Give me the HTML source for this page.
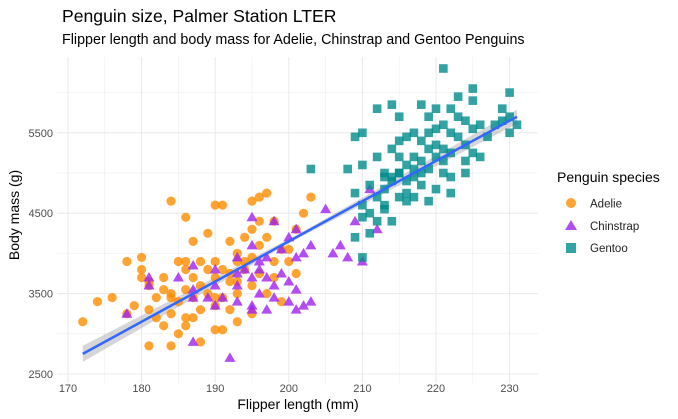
<!DOCTYPE html>
<html><head><meta charset="utf-8"><style>
body{margin:0;background:#fff;}
svg{display:block;font-family:"Liberation Sans",Arial,sans-serif;}
</style></head><body>
<svg id="chart" width="678" height="419">
<g id="grid"></g>
<g id="band"></g>
<g id="pts"></g>
<g id="fit"></g>
<g id="axes"></g>
<text x="62" y="22" font-size="17.6" fill="#000">Penguin size, Palmer Station LTER</text>
<text x="62" y="44" font-size="14.3" fill="#000">Flipper length and body mass for Adelie, Chinstrap and Gentoo Penguins</text>
<text x="298" y="409" font-size="14" text-anchor="middle">Flipper length (mm)</text>
<text transform="translate(19,215) rotate(-90)" font-size="14" text-anchor="middle">Body mass (g)</text>
<g>
<text x="557" y="182" font-size="14">Penguin species</text>
<g><circle cx="571" cy="203" r="5" fill="#FF8C00" fill-opacity="0.8"/><text x="590" y="207.5" font-size="11.5" fill="#222">Adelie</text></g>
<g><polygon points="571,220 577,230 565,230" fill="#A020F0" fill-opacity="0.8"/><text x="590" y="230" font-size="11.5" fill="#222">Chinstrap</text></g>
<g><rect x="566" y="243" width="10" height="10" fill="#008B8B" fill-opacity="0.8"/><text x="590" y="252" font-size="11.5" fill="#222">Gentoo</text></g>
</g>
</svg>
<script>
const xTicks=[170,180,190,200,210,220,230];
const yTicks=[2500,3500,4500,5500];
const adelie=[[172,3150],[174,3400],[176,3450],[178,3250],[178,3900],[180,3800],[180,3700],[180,3950],[181,2850],[181,3300],[181,3600],[182,3200],[182,3450],[183,3550],[183,3100],[184,4650],[184,3500],[184,3250],[184,2850],[185,3900],[185,3000],[185,3400],[186,4450],[186,3800],[186,3550],[186,3100],[187,3200],[187,3700],[187,4150],[187,3450],[188,3600],[188,2900],[188,3300],[189,3800],[189,3500],[189,4250],[190,3900],[190,3350],[190,4600],[190,3050],[190,3700],[191,4600],[191,3450],[191,3800],[191,3050],[192,3300],[192,3650],[192,4150],[193,3900],[193,4000],[193,3500],[193,3150],[194,4200],[194,3800],[195,4650],[195,4300],[195,3250],[195,3950],[196,4700],[196,4400],[196,3750],[196,4100],[197,4750],[197,3500],[197,4200],[198,3900],[198,3700],[199,4050],[199,3400],[200,3900],[200,4050],[201,4300],[201,3750],[202,4500],[203,4700],[184,3450],[186,3900],[183,3700],[190,3450],[193,3650],[181,3650],[186,3200],[179,3350],[194,3900],[198,4400],[195,3600],[188,3900],[192,3750]];
const chinstrap=[[178,3250],[181,3700],[181,3600],[185,3700],[187,3550],[187,3850],[187,2900],[189,3450],[190,3600],[190,3800],[191,3450],[192,2700],[193,3400],[193,3750],[193,3600],[194,3800],[195,3300],[195,3700],[195,4450],[196,3500],[196,3900],[196,3800],[197,3300],[197,3700],[198,3600],[198,3450],[199,3750],[200,3400],[200,3650],[201,3950],[201,3550],[201,4300],[202,4000],[202,3350],[203,4100],[205,4550],[206,4000],[207,4100],[208,3950],[210,3900],[211,4800],[212,4300],[193,3950],[190,3350],[195,4100],[197,3950],[199,4050],[201,3300],[203,3400],[187,3450],[195,3350],[198,4400],[200,4200],[209,4400]];
const gentoo=[[203,5050],[208,5050],[209,5450],[209,4750],[210,4600],[210,5100],[210,5500],[211,4500],[211,4850],[211,4250],[212,5200],[212,4700],[212,4400],[213,4950],[213,5000],[213,4800],[213,4550],[214,5850],[214,5300],[214,4900],[214,4400],[215,5400],[215,5200],[215,5000],[215,4700],[215,5700],[216,5100],[216,5450],[216,4650],[216,4900],[217,5200],[217,4950],[217,5500],[217,4700],[218,5850],[218,5400],[218,5150],[218,4850],[219,5700],[219,5300],[219,5050],[219,4650],[220,5550],[220,5350],[220,4800],[220,5200],[221,5600],[221,5000],[221,6300],[221,5300],[222,5800],[222,5500],[222,5250],[222,4750],[223,5950],[223,5700],[223,5450],[224,5650],[224,5350],[224,5150],[225,5550],[225,5250],[225,5900],[226,5600],[226,5200],[227,5450],[228,5600],[229,5650],[229,5800],[230,5500],[230,6000],[230,5700],[231,5600],[209,4200],[210,3950],[212,5800],[213,4600],[216,4750],[220,5800],[215,5000],[214,4950],[218,5000],[222,4950],[225,6050],[224,5000],[217,5050],[219,5500],[221,5150],[210,4450]];
const fitX=[172,231];
const fitY=[2750,5700];
const NS='http://www.w3.org/2000/svg';
const X=v=>68+(v-170)*7.36;
const Y=v=>374-(v-2500)*0.0804;
function mk(t,p,a){const e=document.createElementNS(NS,t);for(const k in a)e.setAttribute(k,a[k]);p.appendChild(e);return e;}
const grid=document.getElementById('grid'),axes=document.getElementById('axes');
for(let v=165;v<=235;v+=5){const x=X(v);if(x<57||x>538)continue;const major=v%10===0;const l=mk('line',grid,{x1:x,x2:x,y1:57,y2:383,stroke:'#ebebeb','stroke-width':major?1.1:0.55});

}
for(let v=2500;v<=6500;v+=500){const y=Y(v);if(y<57||y>383)continue;const major=(v-2500)%1000===0;const l=mk('line',grid,{x1:57,x2:538,y1:y,y2:y,stroke:'#ebebeb','stroke-width':major?1.1:0.55});

}
xTicks.forEach(v=>{const t=mk('text',axes,{x:X(v),y:392,'font-size':11,'text-anchor':'middle',fill:'#4d4d4d'});t.textContent=v;

});
yTicks.forEach(v=>{const t=mk('text',axes,{x:53,y:Y(v)+4,'font-size':11,'text-anchor':'end',fill:'#4d4d4d'});t.textContent=v;

});
const pts=document.getElementById('pts');
adelie.forEach(d=>{const c=mk('circle',pts,{cx:X(d[0]),cy:Y(d[1]),r:4.6,fill:'#FF8C00','fill-opacity':0.8});

});
chinstrap.forEach(d=>{const x=X(d[0]),y=Y(d[1]);const c=mk('polygon',pts,{points:`${x},${y-5.5} ${x+5.5},${y+4} ${x-5.5},${y+4}`,fill:'#A020F0','fill-opacity':0.8});

});
gentoo.forEach(d=>{const x=X(d[0]),y=Y(d[1]);const c=mk('rect',pts,{x:x-4.3,y:y-4.3,width:8.6,height:8.6,fill:'#008B8B','fill-opacity':0.8});

});
const band=document.getElementById('band');
const bp=mk('polygon',band,{points:`${X(fitX[0])},${Y(fitY[0])-8} ${X(201)},${Y(4200)-2} ${X(fitX[1])},${Y(fitY[1])-7} ${X(fitX[1])},${Y(fitY[1])+7} ${X(201)},${Y(4200)+2} ${X(fitX[0])},${Y(fitY[0])+8}`,fill:'#999','fill-opacity':0.4});


const fl=mk('line',document.getElementById('fit'),{x1:X(fitX[0]),y1:Y(fitY[0]),x2:X(fitX[1]),y2:Y(fitY[1]),stroke:'#3366FF','stroke-width':2.5});


</script>
</body></html>
